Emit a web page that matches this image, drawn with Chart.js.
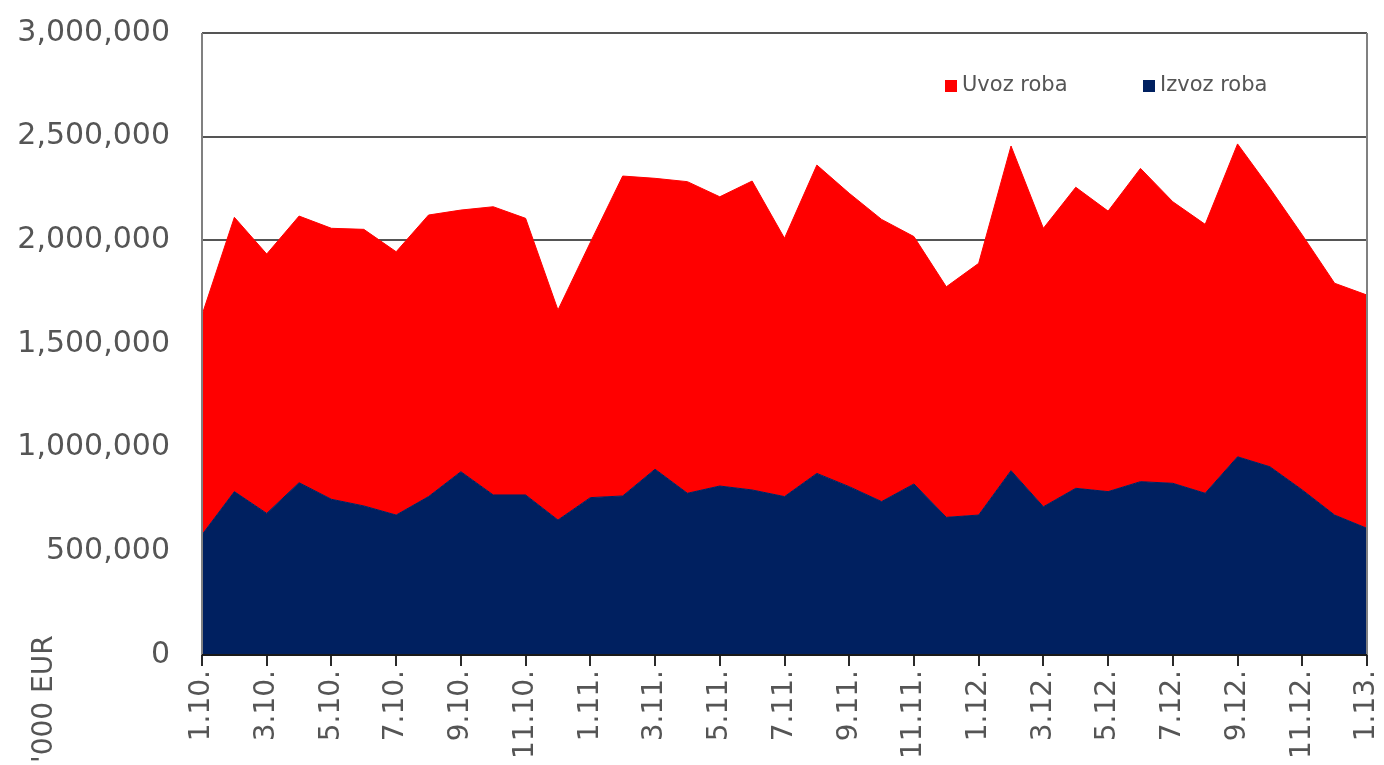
<!DOCTYPE html>
<html lang="sr">
<head>
  <meta charset="UTF-8">
  <title>Uvoz i izvoz roba</title>
  <script src="https://cdn.jsdelivr.net/npm/chart.js"></script>
  <style>
    html, body {
      margin: 0;
      padding: 0;
      background: #fff;
    }
    #wrap {
      width: 1384px;
      height: 765px;
    }
  </style>
</head>
<body>
  <div id="wrap">
    <canvas id="myChart" width="1384" height="765"></canvas>
  </div>

  <script>
    // months 1.10. .. 1.13. ('000 EUR)
    const months = [
      '1.10.', '2.10.', '3.10.', '4.10.', '5.10.', '6.10.', '7.10.', '8.10.', '9.10.', '10.10.', '11.10.', '12.10.',
      '1.11.', '2.11.', '3.11.', '4.11.', '5.11.', '6.11.', '7.11.', '8.11.', '9.11.', '10.11.', '11.11.', '12.11.',
      '1.12.', '2.12.', '3.12.', '4.12.', '5.12.', '6.12.', '7.12.', '8.12.', '9.12.', '10.12.', '11.12.', '12.12.',
      '1.13.'
    ];

    const izvoz = [
      580000, 788000, 683000, 831000, 751000, 719000, 675000, 764000, 884000, 772000, 772000, 651000,
      759000, 767000, 896000, 780000, 815000, 796000, 764000, 876000, 812000, 740000, 825000, 664000,
      675000, 889000, 715000, 804000, 788000, 836000, 828000, 780000, 956000, 908000, 796000, 675000,
      611000
    ];

    const uvoz = [
      1060000, 1323000, 1251000, 1286000, 1307000, 1334000, 1270000, 1358000, 1262000, 1390000, 1334000, 1013000,
      1231000, 1543000, 1403000, 1503000, 1395000, 1490000, 1246000, 1487000, 1415000, 1361000, 1193000, 1112000,
      1214000, 1566000, 1343000, 1452000, 1353000, 1511000, 1358000, 1297000, 1509000, 1343000, 1230000, 1118000,
      1125000
    ];

    const yTicks = [0, 500000, 1000000, 1500000, 2000000, 2500000, 3000000];

    const FONT = '"DejaVu Sans", sans-serif';
    const TEXT = '#555555';

    // legend inside the plot, axis title at the bottom left, plot frame
    const extras = {
      id: 'extras',
      afterDatasetsDraw(chart) {
        const ctx = chart.ctx;
        const a = chart.chartArea;
        ctx.save();

        ctx.lineWidth = 2;
        ctx.strokeStyle = '#808080';
        ctx.beginPath();
        ctx.moveTo(a.left, a.top);
        ctx.lineTo(a.left, a.bottom);
        ctx.moveTo(a.right, a.top);
        ctx.lineTo(a.right, a.bottom);
        ctx.stroke();

        ctx.strokeStyle = '#1a1a1a';
        ctx.beginPath();
        ctx.moveTo(a.left, a.bottom);
        ctx.lineTo(a.right, a.bottom);
        ctx.stroke();

        // legend
        const items = chart.data.datasets.slice().reverse();
        let x = a.right - 422;
        const y = 86;
        ctx.font = '21px ' + FONT;
        ctx.textBaseline = 'middle';
        ctx.textAlign = 'left';
        items.forEach(function(ds) {
          ctx.fillStyle = ds.backgroundColor;
          ctx.fillRect(x, y - 6, 12, 12);
          ctx.fillStyle = TEXT;
          ctx.fillText(ds.label, x + 17, y);
          x += 198;
        });

        // unit title
        ctx.translate(45, 763);
        ctx.rotate(-Math.PI / 2);
        ctx.font = '28px ' + FONT;
        ctx.fillStyle = TEXT;
        ctx.fillText("'000 EUR", 0, 0);
        ctx.restore();
      }
    };

    document.addEventListener('DOMContentLoaded', function() {
      const ctx = document.getElementById('myChart').getContext('2d');
      new Chart(ctx, {
        type: 'line',
        data: {
          labels: months,
          datasets: [{
            label: 'Izvoz roba',
            data: izvoz,
            backgroundColor: '#002060',
            borderColor: '#002060',
            borderWidth: 1,
            fill: 'origin'
          }, {
            label: 'Uvoz roba',
            data: uvoz,
            backgroundColor: '#ff0000',
            borderColor: '#ff0000',
            borderWidth: 1,
            fill: '-1'
          }]
        },
        options: {
          responsive: false,
          animation: false,
          layout: {
            padding: { top: 33, right: 17, left: 0, bottom: 0 }
          },
          elements: {
            point: { radius: 0 },
            line: { tension: 0 }
          },
          plugins: {
            legend: { display: false },
            tooltip: { enabled: false }
          },
          scales: {
            x: {
              offset: false,
              grid: {
                display: true,
                drawOnChartArea: false,
                drawTicks: true,
                tickLength: 11,
                color: '#2a2a2a',
                lineWidth: 2
              },
              border: { display: false },
              afterBuildTicks: function(scale) {
                scale.ticks = scale.ticks.filter(function(t, i) { return i % 2 === 0; });
              },
              afterFit: function(scale) {
                scale.height = 110;
                scale.paddingLeft = 0;
                scale.paddingRight = 0;
              },
              ticks: {
                autoSkip: false,
                minRotation: 90,
                maxRotation: 90,
                padding: 4,
                color: TEXT,
                font: { family: FONT, size: 28 }
              }
            },
            y: {
              stacked: true,
              min: 0,
              max: 3000000,
              afterBuildTicks: function(scale) {
                scale.ticks = yTicks.map(function(v) { return { value: v }; });
              },
              afterFit: function(scale) {
                scale.width = 202;
                scale.paddingTop = 0;
                scale.paddingBottom = 0;
              },
              grid: {
                color: '#555555',
                lineWidth: 2,
                drawTicks: false
              },
              border: { display: false },
              ticks: {
                padding: 32,
                color: TEXT,
                font: { family: FONT, size: 30 },
                callback: function(v) {
                  return v.toLocaleString('en-US');
                }
              }
            }
          }
        },
        plugins: [extras]
      });
    });
  </script>
</body>
</html>
